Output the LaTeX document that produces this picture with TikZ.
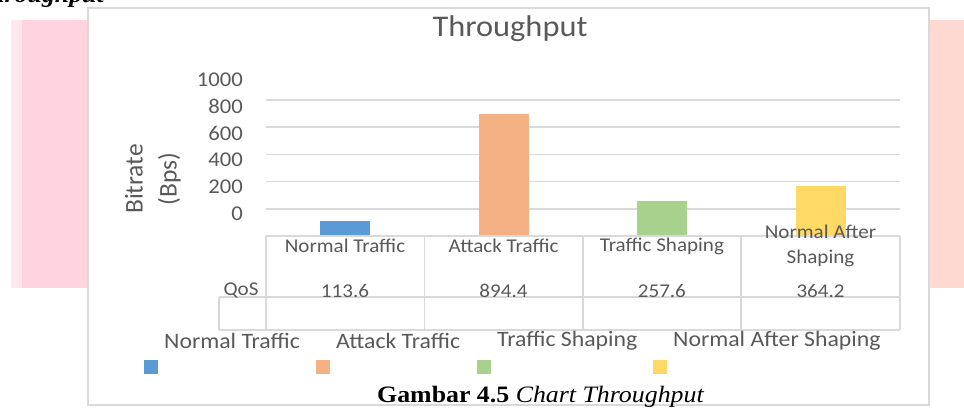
\documentclass[tikz,border=0pt]{standalone}
\usepackage{fontspec}
\setmainfont[FakeStretch=1.08]{Carlito}
\newfontfamily\axisfont{Carlito}
\newfontfamily\capfont[FakeStretch=1.1]{Liberation Serif}
\usetikzlibrary{
    calc,
    positioning
}
\definecolor{txtgray}{HTML}{595959}
\definecolor{gridgray}{HTML}{D9D9D9}
\definecolor{barblue}{HTML}{5B9BD5}
\definecolor{barorange}{HTML}{F4B183}
\definecolor{bargreen}{HTML}{A9D18E}
\definecolor{baryellow}{HTML}{FFD966}
\definecolor{leftpink}{HTML}{FFD3DF}
\definecolor{rightpink}{HTML}{FDD9D1}
\newcommand{\QosBar}[3]{%
  \coordinate (#1t) at ($(#1)+(0,-0.136*#2)$);
  \fill[#3] ($(#1)+(-25,0)$) rectangle ($(#1t)+(25,0)$);
}
\tikzset{
  txt/.style={text=txtgray,inner sep=0pt},
  ticklbl/.style={txt,anchor=east,font=\fontsize{21}{25}\selectfont},
  catlbl/.style={txt,align=center,font=\fontsize{19.5}{25}\selectfont},
  leglbl/.style={txt,anchor=west,font=\fontsize{22}{26}\selectfont},
  legkey/.style={minimum size=13.5pt,inner sep=0pt,anchor=north west},
  gridline/.style={gridgray,line width=1.6pt}
}
\begin{document}
\begin{tikzpicture}[x=1pt,y=-1pt,thin]
\useasboundingbox (0,0) rectangle (964,412);
\clip (0,0) rectangle (964,412);

\fill[leftpink] (11,20) rectangle (89,288);
\fill[leftpink!55!white] (11,20) rectangle (22,288);
\fill[rightpink] (929,20) rectangle (964,288);
\node[anchor=base east,inner sep=0pt,font=\capfont\fontsize{23.5}{28}\selectfont\bfseries\itshape] (head) at (104,2.5) {Throughput};

\draw[gridline,fill=white] (88,8) rectangle (929,405);
\node[txt,font=\fontsize{30}{36}\selectfont] (title) at (510,29) {Throughput};

\foreach \i in {1,...,5}
  \draw[gridline] (265.7,{236-27.2*\i}) -- (900,{236-27.2*\i});

\node[ticklbl] (t1000) at (243,80) {1000};
\node[ticklbl] (t800) at (243,106.7) {800};
\node[ticklbl] (t600) at (243,133.3) {600};
\node[ticklbl] (t400) at (243,160) {400};
\node[ticklbl] (t200) at (243,186.7) {200};
\node[ticklbl] (t0) at (243,213.3) {0};
\node[txt,rotate=90,align=center,font=\axisfont\fontsize{25.5}{34}\selectfont] (ytitle) at (153,179) {Bitrate\\(Bps)};

\coordinate (c1) at (345,236);
\coordinate (c2) at (503.5,236);
\coordinate (c3) at (661.9,236);
\coordinate (c4) at (820.5,236);
\QosBar{c1}{113.6}{barblue}
\QosBar{c2}{894.4}{barorange}
\QosBar{c3}{257.6}{bargreen}
\QosBar{c4}{364.2}{baryellow}

\draw[gridline] (265.7,236) -- (900,236);
\draw[gridline] (219,297) -- (900,297);
\draw[gridline] (219,330) -- (900,330);
\draw[gridline] (219,297) -- (219,330);
\foreach \x in {265.7,424.3,582.7,741,900}
  \draw[gridline] (\x,236) -- (\x,330);

\node[catlbl] (cat1) at (345,246) {Normal Traffic};
\node[catlbl] (cat2) at (503.5,246) {Attack Traffic};
\node[catlbl] (cat3) at (661.9,246) {Traffic Shaping};
\node[catlbl] (cat4) at (820.5,245.5) {Normal After\\Shaping};
\node[catlbl] (qos) at (241,290.5) {QoS};
\node[catlbl] (val1) at (345,290.5) {113.6};
\node[catlbl] (val2) at (503.5,290.5) {894.4};
\node[catlbl] (val3) at (661.9,290.5) {257.6};
\node[catlbl] (val4) at (820.5,290.5) {364.2};

\node[leglbl] (leg1) at (164,341) {Normal Traffic};
\node[leglbl] (leg2) at (336,341) {Attack Traffic};
\node[leglbl] (leg3) at (497,341) {Traffic Shaping};
\node[leglbl] (leg4) at (673,341) {Normal After Shaping};
\node[legkey,fill=barblue] (key1) at (144,360) {};
\node[legkey,fill=barorange] (key2) at (316,360) {};
\node[legkey,fill=bargreen] (key3) at (477,360) {};
\node[legkey,fill=baryellow] (key4) at (653,360) {};

\node[anchor=base west,inner sep=0pt,font=\capfont\fontsize{23.5}{28}\selectfont] (caption) at (377,402.5) {\textbf{Gambar 4.5} \textit{Chart Throughput}};
\end{tikzpicture}
\end{document}
